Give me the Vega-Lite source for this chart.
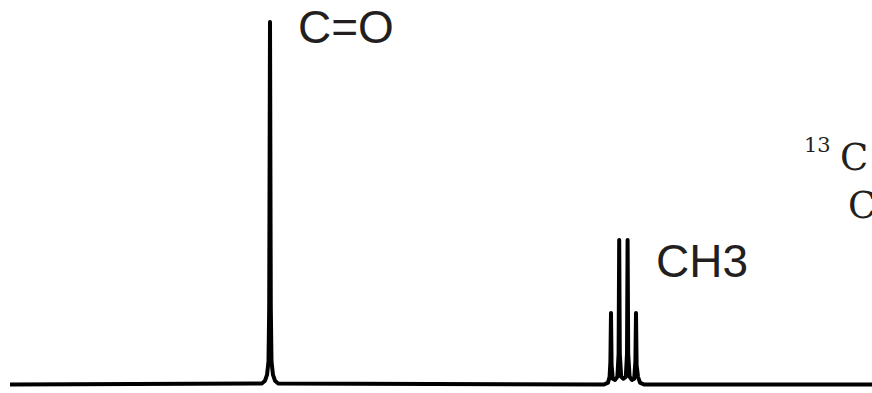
{
  "$schema": "https://vega.github.io/schema/vega-lite/v6.json",
  "width": 872,
  "height": 393,
  "autosize": {"type": "none"},
  "padding": 0,
  "background": "white",
  "config": {"view": {"stroke": null}},
  "datasets": {
    "spectrum": [
      {"ppm": 335, "intensity": 0},
      {"ppm": 209, "intensity": 0.3},
      {"ppm": 207.5, "intensity": 1.0},
      {"ppm": 206.5, "intensity": 2.5},
      {"ppm": 205.75, "intensity": 6},
      {"ppm": 205.4, "intensity": 20},
      {"ppm": 205, "intensity": 94.3},
      {"ppm": 204.6, "intensity": 20},
      {"ppm": 204.25, "intensity": 6},
      {"ppm": 203.5, "intensity": 2.5},
      {"ppm": 202.5, "intensity": 1.0},
      {"ppm": 201, "intensity": 0.3},
      {"ppm": 38, "intensity": 0},
      {"ppm": 36, "intensity": 0.5},
      {"ppm": 35.2, "intensity": 2},
      {"ppm": 34.8, "intensity": 6},
      {"ppm": 34.5, "intensity": 18.6},
      {"ppm": 34.2, "intensity": 5},
      {"ppm": 33.6, "intensity": 1.5},
      {"ppm": 32.5, "intensity": 1.2},
      {"ppm": 31.3, "intensity": 2},
      {"ppm": 30.7, "intensity": 8},
      {"ppm": 30.4, "intensity": 37.6},
      {"ppm": 30.1, "intensity": 8},
      {"ppm": 29.4, "intensity": 2},
      {"ppm": 28.3, "intensity": 1.5},
      {"ppm": 27.1, "intensity": 2},
      {"ppm": 26.5, "intensity": 8},
      {"ppm": 26.2, "intensity": 37.6},
      {"ppm": 25.9, "intensity": 8},
      {"ppm": 25.2, "intensity": 2},
      {"ppm": 24, "intensity": 1.2},
      {"ppm": 22.9, "intensity": 1.5},
      {"ppm": 22.3, "intensity": 6},
      {"ppm": 22.0, "intensity": 18.6},
      {"ppm": 21.7, "intensity": 5},
      {"ppm": 21, "intensity": 2},
      {"ppm": 20, "intensity": 0.5},
      {"ppm": 18, "intensity": 0},
      {"ppm": -96, "intensity": 0}
    ],
    "labels": [
      {"label": "C=O", "ppm": 191, "intensity": 88.8},
      {"label": "CH3", "ppm": 12, "intensity": 28.0},
      {"label": "13", "ppm": -62, "intensity": 60.5},
      {"label": "C", "ppm": -80, "intensity": 55.8},
      {"label": "C ", "ppm": -84, "intensity": 43.3}
    ]
  },
  "encoding": {
    "x": {"field": "ppm", "type": "quantitative", "scale": {"domain": [-96, 340], "reverse": true, "nice": false, "zero": false}, "axis": null},
    "y": {"field": "intensity", "type": "quantitative", "scale": {"domain": [-2.2, 100], "nice": false, "zero": false}, "axis": null}
  },
  "layer": [
    {
      "data": {"name": "spectrum"},
      "mark": {"type": "line", "color": "#000000", "strokeWidth": 4, "strokeJoin": "round", "strokeCap": "butt", "interpolate": "linear"}
    },
    {
      "data": {"name": "labels"},
      "transform": [{"filter": "datum.label === 'C=O' || datum.label === 'CH3'"}],
      "mark": {"type": "text", "align": "left", "baseline": "alphabetic", "font": "Liberation Sans", "fontSize": 46, "color": "#231f20"},
      "encoding": {"text": {"field": "label"}}
    },
    {
      "data": {"name": "labels"},
      "transform": [{"filter": "datum.label === '13'"}],
      "mark": {"type": "text", "align": "left", "baseline": "alphabetic", "font": "DejaVu Serif", "fontSize": 21, "color": "#231f20"},
      "encoding": {"text": {"field": "label"}}
    },
    {
      "data": {"name": "labels"},
      "transform": [{"filter": "datum.label === 'C' || datum.label === 'C '"}],
      "mark": {"type": "text", "align": "left", "baseline": "alphabetic", "font": "DejaVu Serif", "fontSize": 37, "color": "#231f20"},
      "encoding": {"text": {"field": "label"}}
    }
  ]
}
